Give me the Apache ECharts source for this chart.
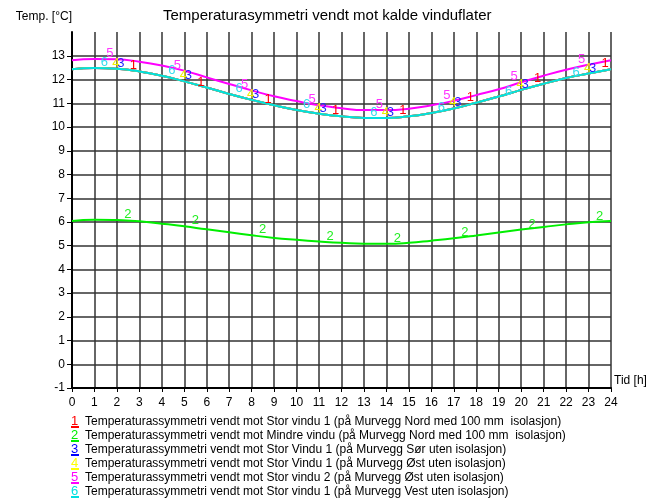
<!DOCTYPE html>
<html>
<head>
<meta charset="utf-8">
<script src="https://cdn.jsdelivr.net/npm/echarts@6/dist/echarts.min.js"></script>
<style>html,body{margin:0;padding:0;background:#fff;}#c{width:662px;height:500px;}</style>
</head>
<body>
<div id="c"></div>
<script>
const titleText = 'Temperaturasymmetri vendt mot kalde vinduflater';
const hours = [0,1,2,3,4,5,6,7,8,9,10,11,12,13,14,15,16,17,18,19,20,21,22,23,24];
const names = [
  'Temperaturassymmetri vendt mot Stor vindu 1 (på Murvegg Nord med 100 mm  isolasjon)',
  'Temperaturassymmetri vendt mot Mindre vindu (på Murvegg Nord med 100 mm  isolasjon)',
  'Temperaturassymmetri vendt mot Stor Vindu 1 (på Murvegg Sør uten isolasjon)',
  'Temperaturassymmetri vendt mot Stor Vindu 1 (på Murvegg Øst uten isolasjon)',
  'Temperaturassymmetri vendt mot Stor vindu 2 (på Murvegg Øst uten isolasjon)',
  'Temperaturassymmetri vendt mot Stor vindu 1 (på Murvegg Vest uten isolasjon)'
];
const s1 = [12.44,12.49,12.46,12.35,12.17,11.93,11.67,11.40,11.15,10.92,10.72,10.57,10.46,10.39,10.39,10.46,10.60,10.79,11.03,11.29,11.57,11.83,12.07,12.26,12.44];
const s2 = [6.04,6.10,6.08,6.03,5.93,5.82,5.69,5.57,5.44,5.33,5.25,5.18,5.12,5.08,5.08,5.12,5.21,5.31,5.43,5.56,5.68,5.79,5.90,5.99,6.04];
const s3 = [12.44,12.49,12.46,12.35,12.17,11.93,11.67,11.40,11.15,10.92,10.72,10.57,10.46,10.39,10.39,10.46,10.60,10.79,11.03,11.29,11.57,11.83,12.07,12.26,12.44];
const s4 = [12.44,12.49,12.46,12.35,12.17,11.93,11.67,11.40,11.15,10.92,10.72,10.57,10.46,10.39,10.39,10.46,10.60,10.79,11.03,11.29,11.57,11.83,12.07,12.26,12.44];
const s5 = [12.82,12.87,12.86,12.76,12.60,12.38,12.10,11.82,11.55,11.30,11.10,10.92,10.80,10.72,10.72,10.78,10.92,11.11,11.35,11.60,11.89,12.17,12.42,12.63,12.82];
const s6 = [12.44,12.49,12.46,12.35,12.17,11.93,11.67,11.40,11.15,10.92,10.72,10.57,10.46,10.39,10.39,10.46,10.60,10.79,11.03,11.29,11.57,11.83,12.07,12.26,12.44];
const seriesValues = [s1,s2,s3,s4,s5,s6];
const colors = ['#ff0000','#00ee00','#0000ff','#ffff00','#ff00ff','#00e0e0'];
const labelColors = ['#ff0000','#22ee22','#2222ff','#eeee00','#ff33ff','#33ddee'];
// label placement (style): which hourly points carry the series number, and horizontal px shift
const labelPts = [
  {idx:[3,6,9,12,15,18,21,24], dx:-6},
  {idx:[2,5,8,11,14,17,20,23], dx:11},
  {idx:[2,5,8,11,14,17,20,23], dx:4},
  {idx:[2,5,8,11,14,17,20,23], dx:-1},
  {idx:[2,5,8,11,14,17,20,23], dx:-7},
  {idx:[1,4,7,10,13,16,19,22], dx:10}
];
const FONT = 'Liberation Sans, Arial, sans-serif';
const chart = echarts.init(document.getElementById('c'), null, {renderer:'canvas'});

const series = seriesValues.map((vals, k) => ({
  name: names[k],
  type: 'line',
  xAxisIndex: 0, yAxisIndex: 0,
  smooth: true,
  showSymbol: true,
  showAllSymbol: true,
  symbol: 'circle',
  symbolSize: 0.01,
  lineStyle: {color: colors[k], width: 2},
  itemStyle: {color: colors[k]},
  emphasis: {disabled: true},
  label: {show: false},
  data: hours.map((h, i) => {
    const item = {value: [h, vals[i]]};
    if (labelPts[k].idx.includes(i)) {
      item.label = {show: true, position: 'top', distance: 0, offset: [labelPts[k].dx, 1],
        formatter: String(k + 1), color: labelColors[k], fontSize: 13, fontFamily: FONT};
    }
    return item;
  })
}));

const rich = {t: {color: '#000', fontSize: 12, fontFamily: FONT, lineHeight: 13, padding: [0,0,0,6]}};
colors.forEach((c, k) => {
  rich['n' + k] = {
    color: c, fontSize: 13, fontFamily: FONT, width: 8, lineHeight: 13, align: 'left',
    backgroundColor: new echarts.graphic.LinearGradient(0, 0, 0, 1, [
      {offset: 0, color: 'rgba(255,255,255,0)'},
      {offset: 0.86, color: 'rgba(255,255,255,0)'},
      {offset: 0.86, color: c},
      {offset: 1, color: c}
    ])
  };
});

const option = {
  animation: false,
  backgroundColor: '#fff',
  title: {text: titleText, left: 163, top: 8, padding: 0,
    textStyle: {fontFamily: FONT, fontSize: 15, fontWeight: 'normal', color: '#000'}},
  legend: {
    orient: 'vertical', left: 66, top: 415, height: 90, itemGap: 1, itemWidth: 0, itemHeight: 12,
    icon: 'rect', selectedMode: false, padding: 0,
    data: names,
    formatter: (n) => { const k = names.indexOf(n); return '{n' + k + '|' + (k + 1) + '}{t|' + n + '}'; },
    textStyle: {fontFamily: FONT, fontSize: 12, color: '#000', lineHeight: 13, rich: rich}
  },
  grid: [
    {left: 72, right: 51, top: 56, bottom: 112},
    {left: 72, right: 51, top: 32, height: 24}
  ],
  xAxis: [
    {type: 'value', gridIndex: 0, min: 0, max: 24, interval: 1,
      name: 'Tid [h]', nameLocation: 'end', nameGap: 3,
      nameTextStyle: {fontFamily: FONT, fontSize: 12, color: '#000', align: 'left', verticalAlign: 'bottom', padding: [0,0,1,0]},
      axisLine: {show: true, onZero: false, lineStyle: {color: '#000', width: 2}},
      axisTick: {show: true, length: 4, lineStyle: {color: '#000', width: 1}},
      axisLabel: {margin: 9, fontFamily: FONT, fontSize: 12, color: '#000'},
      splitLine: {show: true, lineStyle: {color: '#333', width: 1.5}}},
    {type: 'value', gridIndex: 1, min: 0, max: 24, interval: 1,
      axisLine: {show: false}, axisTick: {show: false}, axisLabel: {show: false},
      splitLine: {show: true, lineStyle: {color: '#333', width: 1.5}}}
  ],
  yAxis: [
    {type: 'value', gridIndex: 0, min: -1, max: 13, interval: 1,
      axisLine: {show: true, lineStyle: {color: '#000', width: 2}},
      axisTick: {show: true, length: 5, lineStyle: {color: '#000', width: 1}},
      axisLabel: {margin: 7, fontFamily: FONT, fontSize: 12, color: '#000'},
      splitLine: {show: true, lineStyle: {color: '#333', width: 1.5}}},
    {type: 'value', gridIndex: 1, min: 0, max: 1,
      name: 'Temp. [°C]', nameLocation: 'end', nameGap: 9,
      nameTextStyle: {fontFamily: FONT, fontSize: 12, color: '#000', align: 'right', verticalAlign: 'bottom'},
      axisLine: {show: true, lineStyle: {color: '#000', width: 2}},
      axisTick: {show: false}, axisLabel: {show: false}, splitLine: {show: false}}
  ],
  series: series
};
chart.setOption(option);
</script>
</body>
</html>
